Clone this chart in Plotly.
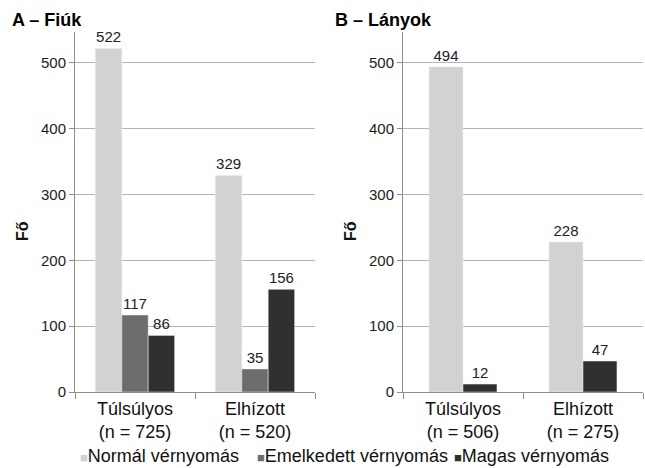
import plotly.graph_objects as go

categories_a = ["Túlsúlyos<br>(n = 725)", "Elhízott<br>(n = 520)"]
categories_b = ["Túlsúlyos<br>(n = 506)", "Elhízott<br>(n = 275)"]
series_names = ["Normál vérnyomás", "Emelkedett vérnyomás", "Magas vérnyomás"]
fiuk_normal = [522, 329]
fiuk_emelkedett = [117, 35]
fiuk_magas = [86, 156]
lanyok_normal = [494, 228]
lanyok_magas = [12, 47]
y_ticks = [0, 100, 200, 300, 400, 500]

colors = ["#D2D2D2", "#6D6D6D", "#303030"]
FONT = "Liberation Sans, Arial, sans-serif"
W, H = 645, 468

fig = go.Figure()

wa = 0.22
for vals, name, col, off in [
    (fiuk_normal, series_names[0], colors[0], -1.5 * wa),
    (fiuk_emelkedett, series_names[1], colors[1], -0.5 * wa),
    (fiuk_magas, series_names[2], colors[2], 0.5 * wa),
]:
    fig.add_trace(go.Bar(
        x=categories_a, y=vals, name=name, marker_color=col, width=wa, offset=off,
        text=[str(v) for v in vals], textposition="outside", cliponaxis=False,
        textfont=dict(size=15, color="#222222", family=FONT),
        xaxis="x", yaxis="y", showlegend=False,
    ))

wb = 0.283
for vals, name, col, off in [
    (lanyok_normal, series_names[0], colors[0], -wb),
    (lanyok_magas, series_names[2], colors[2], 0.0),
]:
    fig.add_trace(go.Bar(
        x=categories_b, y=vals, name=name, marker_color=col, width=wb, offset=off,
        text=[str(v) for v in vals], textposition="outside", cliponaxis=False,
        textfont=dict(size=15, color="#222222", family=FONT),
        xaxis="x2", yaxis="y2", showlegend=False,
    ))

y0 = 1 - 392 / H
y1 = 1 - 32 / H
yrange = [0, 547]

xcommon = dict(showline=True, linecolor="#8C8C8C", linewidth=1, ticks="outside",
               tickson="boundaries", ticklen=6, tickcolor="#8C8C8C",
               tickfont=dict(size=18, color="#111111", family=FONT), showgrid=False,
               automargin=False, fixedrange=True)
ycommon = dict(range=yrange, tickvals=y_ticks, showline=True, linecolor="#8C8C8C",
               linewidth=1, ticks="outside", ticklen=5, tickcolor="#8C8C8C",
               showgrid=True, gridcolor="#B4B4B4", gridwidth=1, zeroline=False,
               tickfont=dict(size=15, color="#222222", family=FONT), automargin=False,
               fixedrange=True)

annotations = [
    dict(text="<b>A – Fiúk</b>", x=10 / W, y=1 - 20 / H, xref="paper", yref="paper",
         xanchor="left", yanchor="middle", showarrow=False,
         font=dict(size=18, color="#000000", family=FONT)),
    dict(text="<b>B – Lányok</b>", x=333 / W, y=1 - 20 / H, xref="paper", yref="paper",
         xanchor="left", yanchor="middle", showarrow=False,
         font=dict(size=18, color="#000000", family=FONT)),
    dict(text="<b>Fő</b>", x=22 / W, y=1 - 231 / H, xref="paper", yref="paper",
         xanchor="center", yanchor="middle", showarrow=False, textangle=-90,
         font=dict(size=16, color="#111111", family=FONT)),
    dict(text="<b>Fő</b>", x=350 / W, y=1 - 231 / H, xref="paper", yref="paper",
         xanchor="center", yanchor="middle", showarrow=False, textangle=-90,
         font=dict(size=16, color="#111111", family=FONT)),
]

legend_x = [78, 255, 452]
for name, col, lx in zip(series_names, colors, legend_x):
    annotations.append(dict(
        text=f'<span style="color:{col};font-size:13px">■</span>{name}',
        x=lx / W, y=1 - 456 / H, xref="paper", yref="paper",
        xanchor="left", yanchor="middle", showarrow=False,
        font=dict(size=18, color="#111111", family=FONT)))

fig.update_layout(
    width=W, height=H,
    margin=dict(l=0, r=0, t=0, b=0),
    paper_bgcolor="white", plot_bgcolor="white",
    barmode="group",
    xaxis=dict(domain=[75 / W, 315 / W], anchor="y", **xcommon),
    yaxis=dict(domain=[y0, y1], anchor="x", **ycommon),
    xaxis2=dict(domain=[403 / W, 643 / W], anchor="y2", **xcommon),
    yaxis2=dict(domain=[y0, y1], anchor="x2", **ycommon),
    annotations=annotations,
    showlegend=False,
)

fig.write_html(
    "out.html",
    config={"displayModeBar": False, "staticPlot": True},
    post_script="document.body.style.margin='0px';document.body.style.overflow='hidden';",
)
